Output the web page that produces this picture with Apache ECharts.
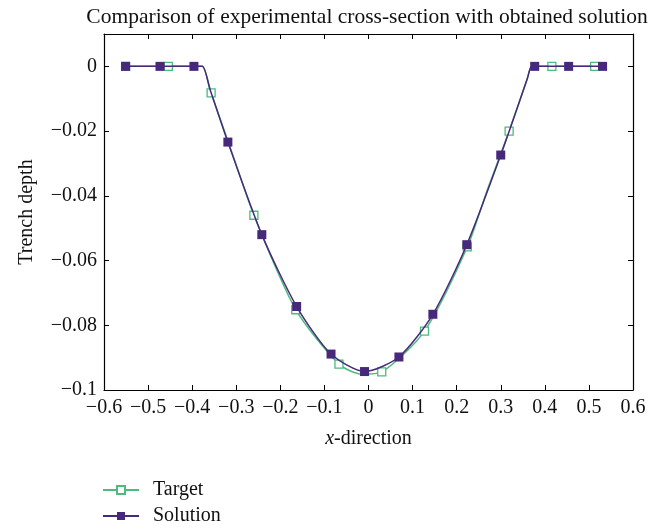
<!DOCTYPE html>
<html>
<head>
<meta charset="utf-8">
<script src="https://cdn.jsdelivr.net/npm/echarts@6/dist/echarts.min.js"></script>
<style>
  html, body { margin: 0; padding: 0; background: #fff; }
  #chart { width: 665px; height: 529px; }
</style>
</head>
<body>
<div id="chart"></div>
<script>
// Measured trench profile (markers)
const targetX = [-0.551, -0.454, -0.357, -0.260, -0.165, -0.067, 0.030, 0.127, 0.224, 0.319, 0.416, 0.513];
const targetY = [0, 0, -0.0082, -0.046, -0.0752, -0.0920, -0.0944, -0.0818, -0.0558, -0.0200, 0, 0];
// Extra points along the measured curve (no marker)
const targetBendX = [-0.392, -0.377, -0.310, -0.015, 0.270, 0.360, 0.370, 0.385];
const targetBendY = [0, 0, -0.0265, -0.0951, -0.0380, -0.0039, 0, 0];

// Computed solution (markers)
const solutionX = [-0.551, -0.473, -0.396, -0.319, -0.242, -0.163, -0.085, -0.009, 0.069, 0.146, 0.223, 0.300, 0.377, 0.454, 0.531];
const solutionY = [0, 0, 0, -0.0234, -0.052, -0.0742, -0.0889, -0.0943, -0.0898, -0.0766, -0.0551, -0.0274, 0, 0, 0];
// Extra points along the solution curve (no marker)
const solutionBendX = [-0.377, -0.360, 0.360, 0.370];
const solutionBendY = [0, -0.0069, -0.0039, 0];

// Axis ranges and ticks
const xMin = -0.6, xMax = 0.6, xStep = 0.1;
const yMin = -0.1, yMax = 0.01, yStep = 0.02;

const GREEN = '#4dbb7d';
const PURPLE = '#46297a';
const FONT = '"Liberation Serif", "DejaVu Serif", serif';

function curveData(mx, my, bx, by) {
  const pts = [];
  mx.forEach((x, i) => pts.push({ value: [x, my[i]] }));
  bx.forEach((x, i) => pts.push({ value: [x, by[i]], symbol: 'none' }));
  pts.sort((a, b) => a.value[0] - b.value[0]);
  return pts;
}

function fmt(v) {
  if (Math.abs(v) < 1e-9) return '0';
  return String(+v.toFixed(3)).replace('-', '\u2212');
}

const tickStyle = { inside: true, length: 5, lineStyle: { color: '#000', width: 1 } };
const lineStyle = { onZero: false, lineStyle: { color: '#000', width: 1.2 } };

const chart = echarts.init(document.getElementById('chart'));
chart.setOption({
  animation: false,
  backgroundColor: '#fff',
  title: {
    text: 'Comparison of experimental cross-section with obtained solution',
    left: 362, top: 1, textAlign: 'center',
    textStyle: { fontFamily: FONT, fontSize: 21.5, fontWeight: 'normal', color: '#111' }
  },
  grid: { left: 104, right: 32, top: 34, bottom: 139 },
  legend: {
    orient: 'vertical', left: 102, top: 480, padding: 0,
    itemWidth: 36, itemHeight: 10, itemGap: 6,
    data: ['Target', 'Solution'],
    textStyle: { fontFamily: FONT, fontSize: 20, color: '#111', lineHeight: 20, padding: [0, 0, 0, 9] }
  },
  xAxis: [{
    type: 'value', min: xMin, max: xMax, interval: xStep,
    name: '{i|x}-direction', nameLocation: 'middle', nameGap: 39,
    nameTextStyle: {
      fontFamily: FONT, fontSize: 20, color: '#111',
      rich: { i: { fontFamily: FONT, fontSize: 20, fontStyle: 'italic', color: '#111' } }
    },
    axisLine: lineStyle, axisTick: tickStyle, splitLine: { show: false },
    axisLabel: { fontFamily: FONT, fontSize: 20, color: '#111', margin: 8, formatter: fmt }
  }, {
    type: 'value', position: 'top', min: xMin, max: xMax, interval: xStep,
    axisLine: lineStyle, axisTick: tickStyle, splitLine: { show: false },
    axisLabel: { show: false }
  }],
  yAxis: [{
    type: 'value', min: yMin, max: yMax, interval: yStep,
    name: 'Trench depth', nameLocation: 'middle', nameGap: 67,
    nameTextStyle: { fontFamily: FONT, fontSize: 20, color: '#111' },
    axisLine: lineStyle, axisTick: tickStyle, splitLine: { show: false },
    axisLabel: { fontFamily: FONT, fontSize: 20, color: '#111', margin: 7, showMaxLabel: false, formatter: fmt }
  }, {
    type: 'value', position: 'right', min: yMin, max: yMax, interval: yStep,
    axisLine: lineStyle, axisTick: tickStyle, splitLine: { show: false },
    axisLabel: { show: false }
  }],
  series: [{
    name: 'Target', type: 'line',
    data: curveData(targetX, targetY, targetBendX, targetBendY),
    smooth: 0.25,
    symbol: 'rect', symbolSize: 8, showAllSymbol: true,
    lineStyle: { color: GREEN, width: 1.5 },
    itemStyle: { color: '#fff', borderColor: GREEN, borderWidth: 1.3 },
    z: 2
  }, {
    name: 'Solution', type: 'line',
    data: curveData(solutionX, solutionY, solutionBendX, solutionBendY),
    smooth: 0.25,
    symbol: 'rect', symbolSize: 9, showAllSymbol: true,
    lineStyle: { color: PURPLE, width: 1.5 },
    itemStyle: { color: PURPLE },
    z: 3
  }]
});
</script>
</body>
</html>
